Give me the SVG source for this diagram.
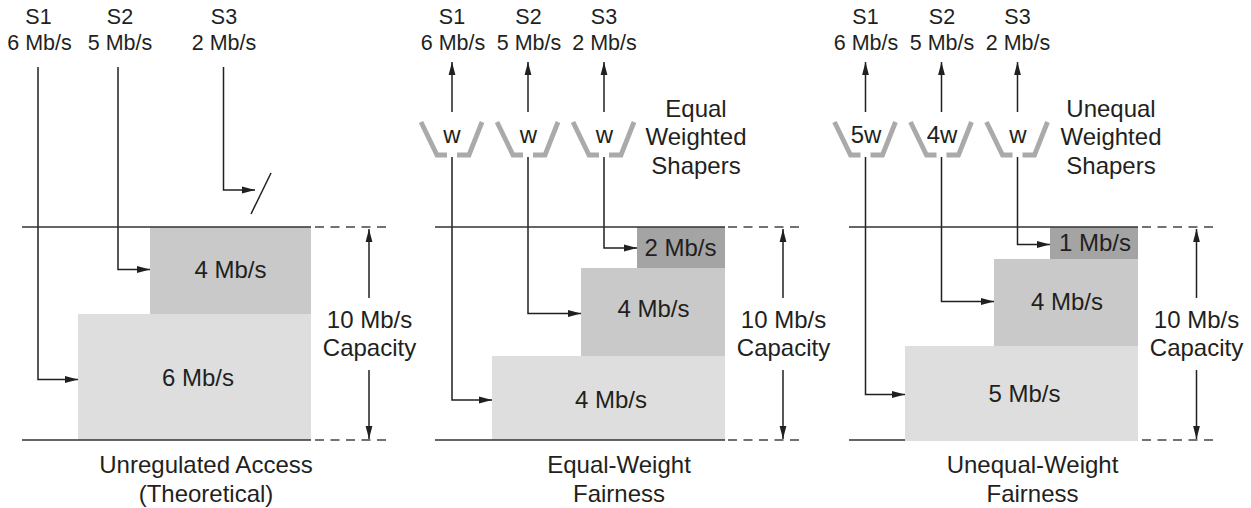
<svg xmlns="http://www.w3.org/2000/svg" width="1251" height="508" viewBox="0 0 1251 508">
<style>
text{font-family:"Liberation Sans",Arial,sans-serif;font-size:24px;fill:#231f20;text-anchor:middle}
text.t{font-size:21.5px}
.l{fill:none;stroke:#231f20;stroke-width:1.5}
.a{marker-end:url(#ah)}
.base{fill:none;stroke:#333;stroke-width:1.6}
.d{fill:none;stroke:#444;stroke-width:1.4;stroke-dasharray:9 6.5}
.sh{fill:none;stroke:#aaa;stroke-width:4.8}
.r1{fill:#dedede}.r2{fill:#c9c9c9}.r3{fill:#a4a4a4}
</style>
<defs>
<marker id="ah" markerUnits="userSpaceOnUse" markerWidth="14" markerHeight="10" refX="13" refY="5" orient="auto"><path d="M0 1.600 L13 5 L0 8.400 Z" fill="#231f20"/></marker>
<g id="shaper"><path class="sh" d="M-31 -33 L-15 0 L-5 0 M5 0 L17 0 L30 -33"/></g>
</defs>
<g id="panel1-fills">
<rect class="r2" x="150" y="227" width="161" height="88"/>
<rect class="r1" x="78" y="314" width="233" height="126"/>
</g>
<g id="panel2-fills">
<rect class="r3" x="637" y="227" width="88" height="42"/>
<rect class="r2" x="581" y="268" width="144" height="88"/>
<rect class="r1" x="492" y="356" width="233" height="84"/>
</g>
<g id="panel3-fills">
<rect class="r3" x="1050" y="227" width="88" height="32"/>
<rect class="r2" x="994" y="259" width="144" height="87"/>
<rect class="r1" x="905" y="346" width="233" height="95"/>
</g>
<g id="connectors">
<path class="l a" d="M38 67V379.500H78"/>
<path class="l a" d="M118 67V269.500H150"/>
<path class="l a" d="M223.500 67V190H255"/>
<path class="l" d="M251 214L271 173"/>
<path class="l a" d="M369 298V229"/>
<path class="l a" d="M369 370V439"/>
<path class="l a" d="M452 157V400H492"/>
<path class="l a" d="M528 157V313.500H581"/>
<path class="l a" d="M604 157V248H637"/>
<path class="l a" d="M452 112V62"/>
<path class="l a" d="M528 112V62"/>
<path class="l a" d="M604 112V62"/>
<path class="l a" d="M783 298V229"/>
<path class="l a" d="M783 370V439"/>
<path class="l a" d="M865.500 157V394.500H905"/>
<path class="l a" d="M941.500 157V301.500H994"/>
<path class="l a" d="M1017.500 157V244.500H1050"/>
<path class="l a" d="M865.500 112V62"/>
<path class="l a" d="M941.500 112V62"/>
<path class="l a" d="M1017.500 112V62"/>
<path class="l a" d="M1196.500 298V229"/>
<path class="l a" d="M1196.500 370V439"/>
</g>
<g id="rules">
<path class="base" d="M22 227H311M22 440H311"/>
<path class="d" d="M315 227H390M315 440H390"/>
<path class="base" d="M435 227H725M435 440H725"/>
<path class="d" d="M728 227H803M728 440H803"/>
<path class="base" d="M849 227H1138M849 440H905"/>
<path class="d" d="M1142 227H1217M1142 440H1217"/>
</g>
<g id="panel1">
<text class="t" x="38.500" y="24">S1</text><text class="t" x="39.500" y="50">6 Mb/s</text>
<text class="t" x="120" y="24">S2</text><text class="t" x="120" y="50">5 Mb/s</text>
<text class="t" x="224" y="24">S3</text><text class="t" x="224" y="50">2 Mb/s</text>
<text x="230.500" y="278">4 Mb/s</text>
<text x="198" y="385.500">6 Mb/s</text>
<text x="369.500" y="328">10 Mb/s</text><text x="369.500" y="356">Capacity</text>
<text x="206" y="473">Unregulated Access</text><text x="206" y="502">(Theoretical)</text>
</g>
<g id="panel2">
<text class="t" x="452" y="24">S1</text><text class="t" x="453" y="50">6 Mb/s</text>
<text class="t" x="528.500" y="24">S2</text><text class="t" x="529" y="50">5 Mb/s</text>
<text class="t" x="604" y="24">S3</text><text class="t" x="604.500" y="50">2 Mb/s</text>
<use href="#shaper" x="452" y="155"/><use href="#shaper" x="528" y="155"/><use href="#shaper" x="604" y="155"/>
<text x="452" y="143">w</text><text x="528.500" y="143">w</text><text x="604.500" y="143">w</text>
<text x="696" y="117">Equal</text><text x="696" y="145">Weighted</text><text x="696" y="174">Shapers</text>
<text x="680.500" y="256">2 Mb/s</text>
<text x="653.500" y="317">4 Mb/s</text>
<text x="611" y="408">4 Mb/s</text>
<text x="783.500" y="328">10 Mb/s</text><text x="783.500" y="356">Capacity</text>
<text x="619" y="473">Equal-Weight</text><text x="619" y="502">Fairness</text>
</g>
<g id="panel3">
<text class="t" x="865.500" y="24">S1</text><text class="t" x="866" y="50">6 Mb/s</text>
<text class="t" x="942" y="24">S2</text><text class="t" x="942" y="50">5 Mb/s</text>
<text class="t" x="1017.500" y="24">S3</text><text class="t" x="1018" y="50">2 Mb/s</text>
<use href="#shaper" x="865.500" y="155"/><use href="#shaper" x="941.500" y="155"/><use href="#shaper" x="1017.500" y="155"/>
<text x="866" y="143">5w</text><text x="942" y="143">4w</text><text x="1018" y="143">w</text>
<text x="1111" y="117">Unequal</text><text x="1111" y="145">Weighted</text><text x="1111" y="174">Shapers</text>
<text x="1095" y="250.500">1 Mb/s</text>
<text x="1067" y="310">4 Mb/s</text>
<text x="1024.500" y="402">5 Mb/s</text>
<text x="1196.500" y="328">10 Mb/s</text><text x="1196.500" y="356">Capacity</text>
<text x="1032.500" y="473">Unequal-Weight</text><text x="1032.500" y="502">Fairness</text>
</g>
</svg>
